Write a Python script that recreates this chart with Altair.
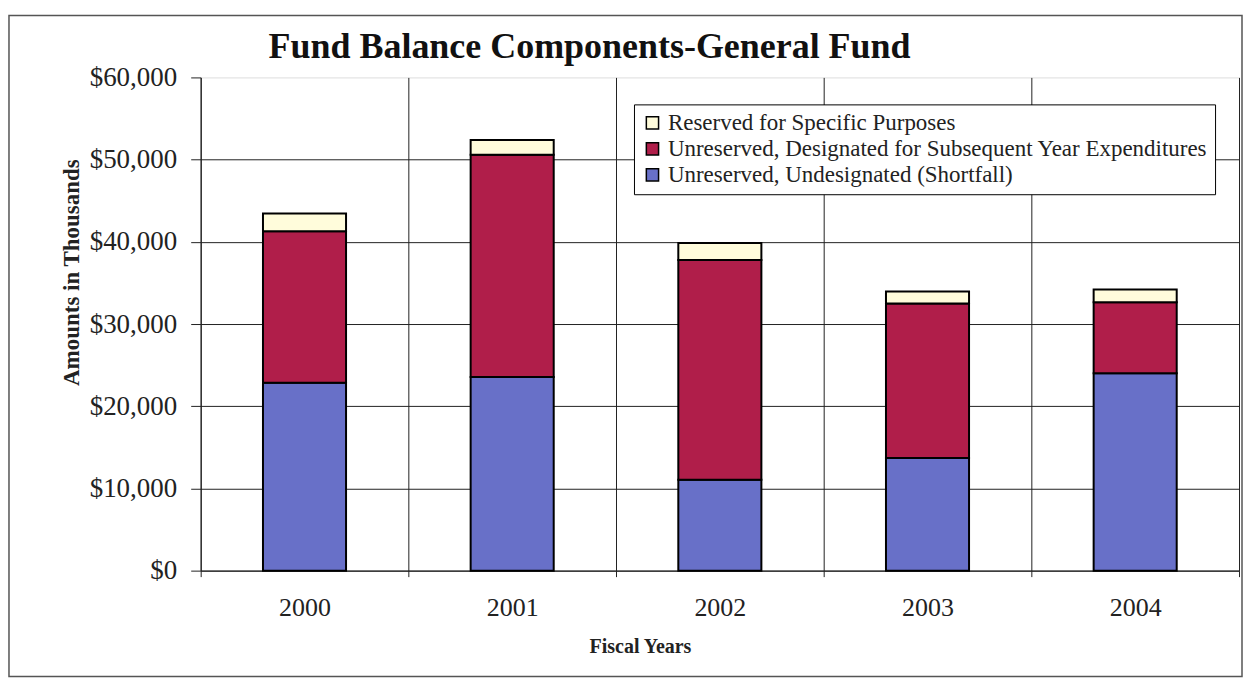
import altair as alt
import pandas as pd

years = ["2000", "2001", "2002", "2003", "2004"]
undesignated = [22850, 23550, 11050, 13700, 24000]
designated = [18450, 27050, 26750, 18800, 8650]
reserved = [2150, 1800, 2050, 1450, 1550]

components = [
    "Reserved for Specific Purposes",
    "Unreserved, Designated for Subsequent Year Expenditures",
    "Unreserved, Undesignated (Shortfall)",
]
colors = ["#FFFCDB", "#B01E4A", "#6870C8"]

rows = []
for i, y in enumerate(years):
    rows.append({"year": y, "component": components[2], "value": undesignated[i], "ord": 0})
    rows.append({"year": y, "component": components[1], "value": designated[i], "ord": 1})
    rows.append({"year": y, "component": components[0], "value": reserved[i], "ord": 2})
df = pd.DataFrame(rows)

FONT = "Liberation Serif"
W, H = 1040, 494

bars = alt.Chart(df).mark_bar(
    stroke="black", strokeWidth=2, width=alt.RelativeBandSize(0.4)
).encode(
    x=alt.X(
        "year:N",
        title="Fiscal Years",
        scale=alt.Scale(paddingInner=0, paddingOuter=0),
        axis=alt.Axis(
            labelAngle=0,
            labelFont=FONT,
            labelFontSize=26,
            labelColor="#222",
            labelPadding=18,
            tickBand="extent",
            tickSize=6,
            tickColor="#222",
            grid=True,
            gridColor="#222",
            gridWidth=1,
            domainColor="#222",
            titleFont=FONT,
            titleFontSize=20,
            titleFontWeight="bold",
            titleColor="#222",
            titleX=440,
            titlePadding=16,
        ),
    ),
    y=alt.Y(
        "sum(value):Q",
        title="Amounts in Thousands",
        scale=alt.Scale(domain=[0, 60000]),
        axis=alt.Axis(
            values=[0, 10000, 20000, 30000, 40000, 50000, 60000],
            format="$,.0f",
            labelFont=FONT,
            labelFontSize=27,
            labelColor="#222",
            labelPadding=14,
            tickSize=10,
            tickColor="#222",
            grid=True,
            gridColor="#222",
            gridWidth=1,
            gridOpacity={"condition": {"test": "datum.value == 60000", "value": 0}, "value": 1},
            domainColor="#222",
            titleFont=FONT,
            titleFontSize=23,
            titleFontWeight="bold",
            titleColor="#222",
            titleX=-129,
            titleY=195,
            titleBaseline="middle",
        ),
    ),
    color=alt.Color(
        "component:N",
        scale=alt.Scale(domain=components, range=colors),
        legend=alt.Legend(
            title=None,
            orient="none",
            legendX=434,
            legendY=27,
            fillColor="white",
            strokeColor="black",
            padding=7,
            labelFont=FONT,
            labelFontSize=23,
            labelColor="#222",
            labelLimit=1000,
            symbolType="square",
            symbolSize=150,
            symbolStrokeColor="black",
            symbolStrokeWidth=1.5,
            symbolOpacity=1,
            rowPadding=2,
        ),
    ),
    order=alt.Order("ord:Q", sort="ascending"),
)

frame = alt.Chart(pd.DataFrame({"a": [0]})).mark_rect(
    fill="transparent", stroke="#555", strokeWidth=1.5
).encode(
    x=alt.value(-192), x2=alt.value(1043), y=alt.value(-62), y2=alt.value(600)
)

chart = alt.layer(frame, bars).properties(
    width=W,
    height=H,
    padding={"left": 8, "top": 14, "right": 2, "bottom": 1},
    title=alt.TitleParams(
        "Fund Balance Components-General Fund",
        font=FONT,
        fontSize=36,
        fontWeight="bold",
        color="#111",
        anchor="start",
        frame="group",
        dx=68,
        offset=-51,
    ),
).configure_view(strokeOpacity=0).configure(background="white")

chart.save("out.html", embed_options={"renderer": "svg", "actions": False})
